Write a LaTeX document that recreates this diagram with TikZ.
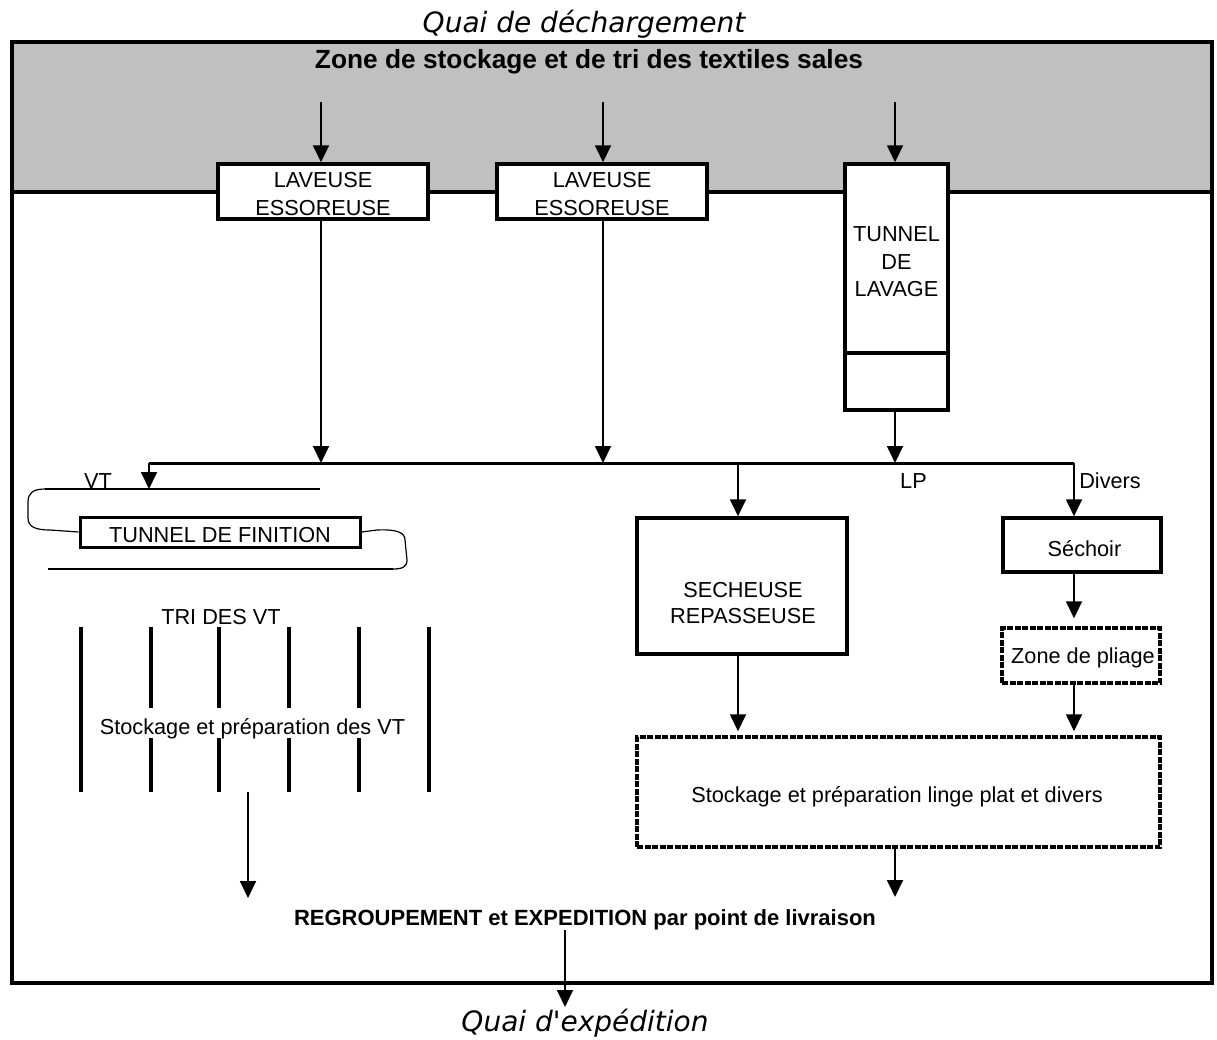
\documentclass[tikz,border=0pt]{standalone}
\usepackage{fontspec}
\setmainfont{Liberation Sans}
\newfontfamily\quaifont{DejaVu Sans}
\usetikzlibrary{arrows.meta}
\definecolor{band}{RGB}{192,192,192}
\begin{document}
\begin{tikzpicture}[x=1pt,y=-1pt,
  box/.style={draw, line width=3.5pt, fill=white, inner sep=0pt},
  dbox/.style={draw, line width=3.5pt, dash pattern=on 6pt off 1.5pt, fill=white, inner sep=0pt},
  lbl/.style={inner sep=0pt, font=\fontsize{21.7}{26}\selectfont, align=center},
  conn/.style={line width=1.8pt, -{Triangle[width=16pt,length=17pt]}},
  thinline/.style={line width=1.2pt},
  bar/.style={line width=4pt},
  quai/.style={inner sep=0pt, font=\quaifont\itshape\fontsize{28}{32}\selectfont, anchor=base},
  btitle/.style={inner sep=0pt, anchor=base},
]
\useasboundingbox (0,0) rectangle (1217,1039);
% frame and band
\fill[band] (12,42) rectangle (1212,192);
\draw[line width=3.5pt] (12,192) -- (1212,192);
\draw[line width=3.5pt] (12,42) rectangle (1212,983);

\node[quai] (quaiD) at (584,32) {Quai de déchargement};
\node[btitle, font=\bfseries\fontsize{26.3}{30}\selectfont] (zone) at (589,68) {Zone de stockage et de tri des textiles sales};

\coordinate (s1) at (321,102);
\coordinate (s2) at (603,102);
\coordinate (s3) at (895,102);

% washers
\node[box, minimum width=210pt, minimum height=55pt] (lav1) at (323,191.5) {};
\node[lbl, font=\fontsize{21.7}{28}\selectfont] (lav1t) at (323,194.5) {LAVEUSE\\ESSOREUSE};
\node[box, minimum width=210pt, minimum height=55pt] (lav2) at (602,191.5) {};
\node[lbl, font=\fontsize{21.7}{28}\selectfont] (lav2t) at (602,194.5) {LAVEUSE\\ESSOREUSE};

% tunnel de lavage
\node[box, minimum width=103pt, minimum height=189pt] (tunA) at (896.5,258.5) {};
\node[box, minimum width=103pt, minimum height=57pt] (tunB) at (896.5,381.5) {};
\node[lbl, font=\fontsize{21.7}{27.5}\selectfont] (tunT) at (896.5,262) {TUNNEL\\DE\\LAVAGE};

\draw[conn] (s1) -- (s1 |- lav1.north);
\draw[conn] (s2) -- (s2 |- lav2.north);
\draw[conn] (s3) -- (s3 |- tunA.north);

% main distribution line
\coordinate (jl) at (149,463);
\coordinate (jr) at (1074,463);
\draw[line width=3pt] (jl) -- (jr);
\draw[conn] (lav1.south -| s1) -- (jl -| s1);
\draw[conn] (lav2.south -| s2) -- (jl -| s2);
\draw[conn] (tunB.south -| s3) -- (jl -| s3);

% VT branch: tunnel de finition
\coordinate (vtL) at (45,489);
\coordinate (vtR) at (320,489);
\draw[thinline] (vtL) -- (vtR);
\draw[conn] (jl) -- (jl |- vtL);
\node[lbl, anchor=base] (vt) at (98,488) {VT};
\node[box, line width=3pt, minimum width=280pt, minimum height=30pt] (fin) at (220,532) {};
\node[lbl, anchor=base] (finT) at (220,542) {TUNNEL DE FINITION};
\coordinate (fbL) at (48,569);
\coordinate (fbR) at (393,569);
\draw[thinline] (fbL) -- (fbR);
\draw[thinline] (vtL) .. controls (33,489) and (28,493) .. (28,502) -- (28,518)
  .. controls (28,527) and (36,530) .. (50,530) -- (fin.west);
\draw[thinline] (fin.east) -- (377,530) .. controls (398,529) and (405,533) .. (405,540)
  -- (407,560) .. controls (407,567) and (402,569) .. (fbR);

% tri des VT
\node[lbl, anchor=base] (tri) at (221,624) {TRI DES VT};
\draw[bar] (81,627) -- (81,792);
\draw[bar] (429,627) -- (429,792);
\foreach \x in {151,219,289,359} {
  \draw[bar] (\x,627) -- (\x,708);
  \draw[bar] (\x,738) -- (\x,792);
}
\node[lbl, anchor=base] (stVT) at (252.5,734) {Stockage et préparation des VT};
\coordinate (vA) at (248,792);
\coordinate (vB) at (248,898);
\draw[conn] (vA) -- (vB);

% LP and Divers
\node[box, minimum width=210pt, minimum height=136pt] (sech) at (742,586) {};
\node[lbl] (sechT) at (743,603.5) {SECHEUSE\\REPASSEUSE};
\node[box, minimum width=158pt, minimum height=54pt] (sechoir) at (1082,545) {};
\node[lbl, anchor=base] (sechoirT) at (1084.5,556) {Séchoir};
\node[dbox, minimum width=158pt, minimum height=55pt] (pliage) at (1081,655.5) {};
\node[lbl, anchor=base] (pliageT) at (1083,663) {Zone de pliage};
\node[dbox, minimum width=523pt, minimum height=110pt] (stock) at (898.5,792) {};
\node[lbl, anchor=base] (stockT) at (897,802) {Stockage et préparation linge plat et divers};

\coordinate (bS) at (738,463);
\draw[conn] (bS) -- (bS |- sech.north);
\node[lbl, anchor=base] (lp) at (913.5,488) {LP};
\node[lbl, anchor=base] (div) at (1110,488) {Divers};
\draw[conn] (jr) -- (jr |- sechoir.north);
\coordinate (pT) at ([yshift=8pt]pliage.north);
\coordinate (sT) at ([yshift=4pt]stock.north);
\draw[conn] (sechoir.south -| jr) -- (pT -| jr);
\draw[conn] (pliage.south -| jr) -- (sT -| jr);
\draw[conn] (sech.south -| bS) -- (sT -| bS);
\coordinate (o2) at (895,897);
\draw[conn] (stock.south -| o2) -- (o2);

% expedition
\node[btitle, font=\bfseries\fontsize{22}{26}\selectfont] (regroup) at (585,925) {REGROUPEMENT et EXPEDITION par point de livraison};
\coordinate (q) at (565,1007);
\draw[conn] (regroup.south -| q) -- (q);
\node[quai] (quaiE) at (585,1031) {Quai d'expédition};
\end{tikzpicture}
\end{document}
